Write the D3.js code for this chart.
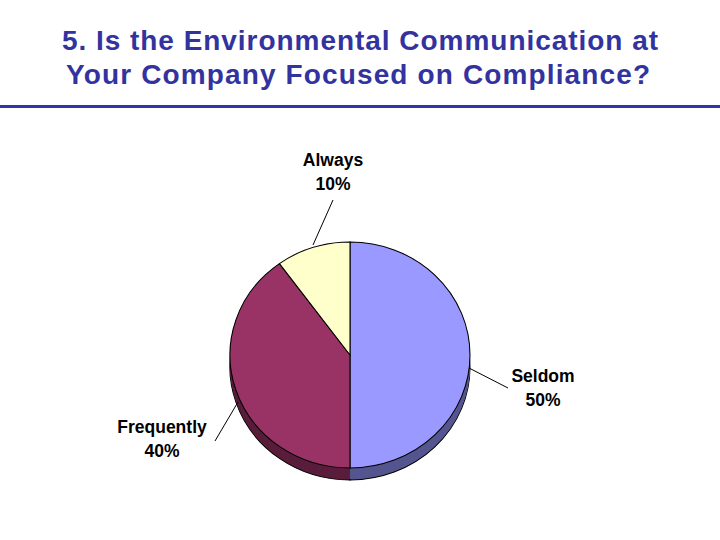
<!DOCTYPE html><html><head><script src="https://cdn.jsdelivr.net/npm/d3@7"></script>
<style>body{margin:0;background:#fff}</style></head><body><svg id="c" width="720" height="540"></svg>
<script>
const categories=["Seldom","Frequently","Always"];
const values=[50,40,10];
const labels=["50%","40%","10%"];
const colors=["#9999FF","#993366","#FFFFCC"];
const sides=["#55558f","#5a1e3c","#99997a"];
const svg=d3.select("#c");
const f="Liberation Sans, Arial, sans-serif";
svg.append("text").attr("x",360).attr("y",50).attr("text-anchor","middle").attr("font-family",f).attr("font-weight","bold").attr("font-size",28).attr("fill","#3333a0").attr("textLength",596).text("5. Is the Environmental Communication at");
svg.append("text").attr("x",358).attr("y",84).attr("text-anchor","middle").attr("font-family",f).attr("font-weight","bold").attr("font-size",28).attr("fill","#3333a0").attr("textLength",584).text("Your Company Focused on Compliance?");
svg.append("rect").attr("x",0).attr("y",105).attr("width",720).attr("height",3).attr("fill","#3333aa");
const cx=350,cy=355,rx=120,ry=113,depth=12;
const pie=d3.pie().sort(null).value(d=>d)(values);
const arc=d3.arc().innerRadius(0).outerRadius(1);
for(let k=depth;k>0;k--){
  const g=svg.append("g").attr("transform",`translate(${cx},${cy+k}) scale(${rx},${ry})`);
  g.selectAll("path").data(pie).join("path").attr("d",arc).attr("fill",(d,i)=>sides[i]).attr("stroke",k==depth?"#000":"none").attr("stroke-width",1/ry);
}
const g=svg.append("g").attr("transform",`translate(${cx},${cy}) scale(${rx},${ry})`);
g.selectAll("path").data(pie).join("path").attr("d",arc).attr("fill",(d,i)=>colors[i]).attr("stroke","#000").attr("stroke-width",1/ry);
const lab=[{x:543,y:377,l:[469,368,508,388]},{x:162,y:428,l:[238,402,215,441]},{x:333,y:161,l:[313,245,333,200]}];
lab.forEach((p,i)=>{
  svg.append("line").attr("x1",p.l[0]).attr("y1",p.l[1]).attr("x2",p.l[2]).attr("y2",p.l[3]).attr("stroke","#000");
  [categories[i],labels[i]].forEach((t,j)=>svg.append("text").attr("x",p.x).attr("y",p.y+24*j+5).attr("text-anchor","middle").attr("font-family",f).attr("font-weight","bold").attr("font-size",17.5).text(t));
});
</script></body></html>
